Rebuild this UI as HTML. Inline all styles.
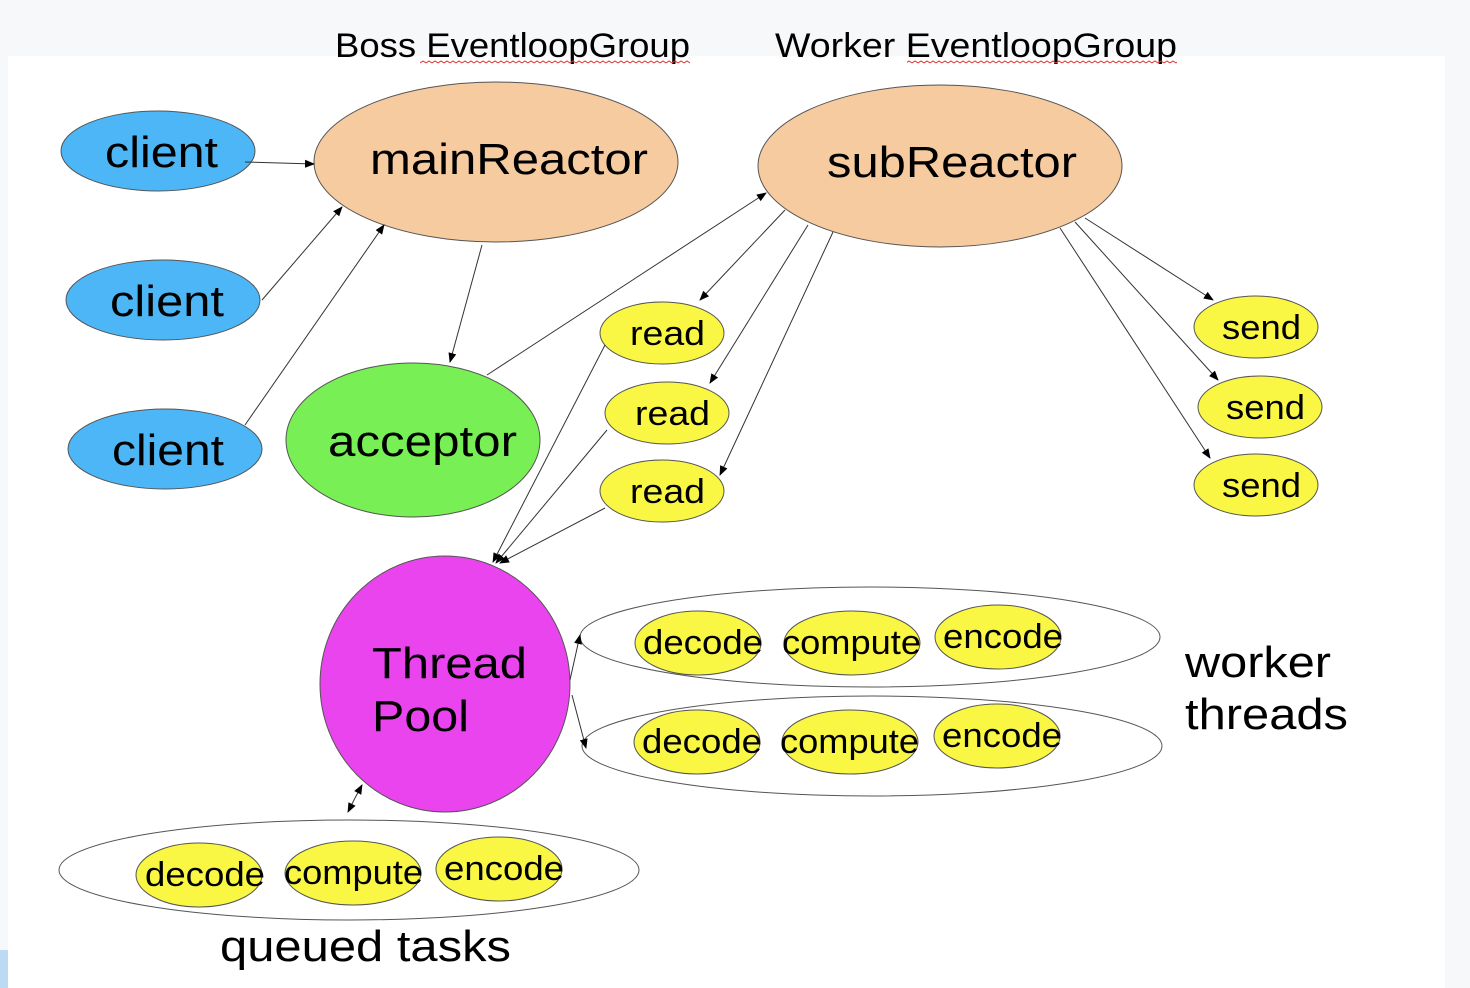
<!DOCTYPE html>
<html><head><meta charset="utf-8"><style>
html,body{margin:0;padding:0;background:#f7f8fa;}
svg{display:block;font-family:"Liberation Sans",sans-serif;}
</style></head><body>
<svg width="1470" height="988" viewBox="0 0 1470 988" xmlns="http://www.w3.org/2000/svg">
<defs><marker id="a" markerWidth="10" markerHeight="10" refX="9" refY="5" orient="auto" markerUnits="userSpaceOnUse"><path d="M0,1 L10,5 L0,9 z" fill="#000"/></marker>
<pattern id="w" width="6" height="4" patternUnits="userSpaceOnUse"><path d="M0,3 L3,1 L6,3" fill="none" stroke="#d33" stroke-width="1"/></pattern></defs>
<rect x="0" y="0" width="1470" height="988" fill="#f7f8fa"/>
<rect x="8" y="56" width="1437" height="932" fill="#fff"/>
<rect x="0" y="950" width="8" height="38" fill="#bcdaf3"/>
<g font-size="34" lengthAdjust="spacingAndGlyphs">
<text x="335" y="57" textLength="355" lengthAdjust="spacingAndGlyphs">Boss EventloopGroup</text>
<text x="775" y="57" textLength="402" lengthAdjust="spacingAndGlyphs">Worker EventloopGroup</text>
</g>
<rect x="420" y="60" width="270" height="4" fill="url(#w)"/>
<rect x="907" y="60" width="270" height="4" fill="url(#w)"/>
<g stroke="#555" stroke-width="1">
<ellipse cx="158" cy="151" rx="97" ry="40" fill="#4db6f6"/>
<ellipse cx="163" cy="300" rx="97" ry="40" fill="#4db6f6"/>
<ellipse cx="165" cy="449" rx="97" ry="40" fill="#4db6f6"/>
<ellipse cx="496" cy="162" rx="182" ry="80" fill="#f7cba0"/>
<ellipse cx="940" cy="166" rx="182" ry="81" fill="#f7cba0"/>
<ellipse cx="413" cy="440" rx="127" ry="77" fill="#77ef55"/>
<ellipse cx="662" cy="333" rx="62" ry="31" fill="#f9f743"/>
<ellipse cx="667" cy="413" rx="62" ry="31" fill="#f9f743"/>
<ellipse cx="662" cy="491" rx="62" ry="31" fill="#f9f743"/>
<ellipse cx="1256" cy="327" rx="62" ry="31" fill="#f9f743"/>
<ellipse cx="1260" cy="407" rx="62" ry="31" fill="#f9f743"/>
<ellipse cx="1256" cy="485" rx="62" ry="31" fill="#f9f743"/>
<ellipse cx="445" cy="684" rx="125" ry="128" fill="#ea44ee"/>
<ellipse cx="870" cy="637" rx="290" ry="50" fill="#fff"/>
<ellipse cx="872" cy="746" rx="290" ry="50" fill="#fff"/>
<ellipse cx="349" cy="870" rx="290" ry="50" fill="#fff"/>
<ellipse cx="698" cy="643" rx="63" ry="32" fill="#f9f743"/>
<ellipse cx="852" cy="643" rx="68" ry="32" fill="#f9f743"/>
<ellipse cx="998" cy="637" rx="63" ry="32" fill="#f9f743"/>
<ellipse cx="697" cy="742" rx="63" ry="32" fill="#f9f743"/>
<ellipse cx="850" cy="742" rx="68" ry="32" fill="#f9f743"/>
<ellipse cx="997" cy="736" rx="63" ry="32" fill="#f9f743"/>
<ellipse cx="199" cy="875" rx="63" ry="32" fill="#f9f743"/>
<ellipse cx="353" cy="873" rx="68" ry="32" fill="#f9f743"/>
<ellipse cx="499" cy="869" rx="63" ry="32" fill="#f9f743"/>
</g>
<g stroke="#333" stroke-width="1" marker-end="url(#a)">
<line x1="245" y1="162" x2="314" y2="164"/>
<line x1="262" y1="300" x2="342" y2="207"/>
<line x1="245" y1="425" x2="384" y2="225"/>
<line x1="482" y1="245" x2="450" y2="362"/>
<line x1="487" y1="375" x2="766" y2="193"/>
<line x1="785" y1="210" x2="700" y2="300"/>
<line x1="808" y1="225" x2="710" y2="383"/>
<line x1="833" y1="232" x2="720" y2="475"/>
<line x1="1085" y1="218" x2="1213" y2="300"/>
<line x1="1075" y1="222" x2="1218" y2="380"/>
<line x1="1060" y1="228" x2="1210" y2="458"/>
<line x1="605" y1="345" x2="493" y2="562"/>
<line x1="607" y1="430" x2="496" y2="563"/>
<line x1="605" y1="508" x2="500" y2="563"/>
<line x1="570" y1="680" x2="580" y2="635"/>
<line x1="572" y1="695" x2="586" y2="748"/>
<line x1="355" y1="798" x2="362" y2="785"/>
<line x1="355" y1="798" x2="348" y2="812"/>
</g>
<g font-size="44" fill="#000">
<text x="105" y="167" textLength="113" lengthAdjust="spacingAndGlyphs">client</text>
<text x="110" y="316" textLength="114" lengthAdjust="spacingAndGlyphs">client</text>
<text x="112" y="465" textLength="112" lengthAdjust="spacingAndGlyphs">client</text>
<text x="370" y="174" textLength="278" lengthAdjust="spacingAndGlyphs">mainReactor</text>
<text x="827" y="177" textLength="250" lengthAdjust="spacingAndGlyphs">subReactor</text>
<text x="328" y="456" textLength="189" lengthAdjust="spacingAndGlyphs">acceptor</text>
<text x="372" y="678" textLength="155" lengthAdjust="spacingAndGlyphs">Thread</text>
<text x="372" y="731" textLength="97" lengthAdjust="spacingAndGlyphs">Pool</text>
<text x="1185" y="677" textLength="146" lengthAdjust="spacingAndGlyphs">worker</text>
<text x="1185" y="729" textLength="163" lengthAdjust="spacingAndGlyphs">threads</text>
<text x="220" y="961" textLength="291" lengthAdjust="spacingAndGlyphs">queued tasks</text>
</g>
<g font-size="34" fill="#000">
<text x="630" y="345" textLength="75" lengthAdjust="spacingAndGlyphs">read</text>
<text x="635" y="425" textLength="75" lengthAdjust="spacingAndGlyphs">read</text>
<text x="630" y="503" textLength="75" lengthAdjust="spacingAndGlyphs">read</text>
<text x="1222" y="339" textLength="79" lengthAdjust="spacingAndGlyphs">send</text>
<text x="1226" y="419" textLength="79" lengthAdjust="spacingAndGlyphs">send</text>
<text x="1222" y="497" textLength="79" lengthAdjust="spacingAndGlyphs">send</text>
<text x="643" y="654" textLength="120" lengthAdjust="spacingAndGlyphs">decode</text>
<text x="782" y="654" textLength="139" lengthAdjust="spacingAndGlyphs">compute</text>
<text x="943" y="648" textLength="120" lengthAdjust="spacingAndGlyphs">encode</text>
<text x="642" y="753" textLength="120" lengthAdjust="spacingAndGlyphs">decode</text>
<text x="780" y="753" textLength="139" lengthAdjust="spacingAndGlyphs">compute</text>
<text x="942" y="747" textLength="120" lengthAdjust="spacingAndGlyphs">encode</text>
<text x="145" y="886" textLength="120" lengthAdjust="spacingAndGlyphs">decode</text>
<text x="284" y="884" textLength="139" lengthAdjust="spacingAndGlyphs">compute</text>
<text x="444" y="880" textLength="120" lengthAdjust="spacingAndGlyphs">encode</text>
</g>
</svg>
</body></html>
